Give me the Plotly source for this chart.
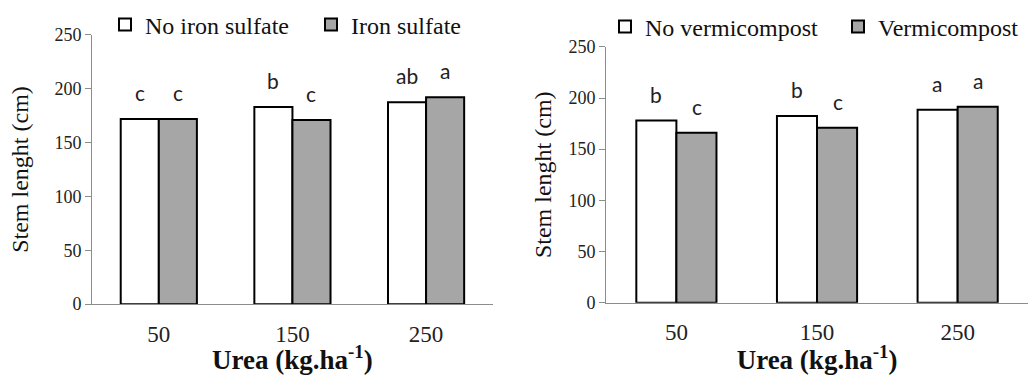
import plotly.graph_objects as go

urea = ["50", "150", "250"]

no_iron = [172, 183, 187.5]
iron = [172, 171, 192]
letters_no_iron = ["c", "b", "ab"]
letters_iron = ["c", "c", "a"]

no_vermi = [178, 182.5, 188.5]
vermi = [166, 171, 191.5]
letters_no_vermi = ["b", "b", "a"]
letters_vermi = ["c", "c", "a"]

y_ticks = [0, 50, 100, 150, 200, 250]

SERIF = "Liberation Serif"
WHITE = "#ffffff"
GREY = "#a6a6a6"
EDGE = "#000000"
W, H = 1029, 375

fig = go.Figure()

def add_bars(xa, ya, legends, names, vals):
    for name, v, col, lg in zip(names, vals, [WHITE, GREY], legends):
        fig.add_trace(go.Bar(
            x=urea, y=v, name=name, xaxis=xa, yaxis=ya, legend=lg,
            marker=dict(color=col, line=dict(color=EDGE, width=2)),
        ))

add_bars("x", "y", ["legend", "legend2"], ["No iron sulfate", "Iron sulfate"], [no_iron, iron])
add_bars("x2", "y2", ["legend3", "legend4"], ["No vermicompost", "Vermicompost"], [no_vermi, vermi])

annotations = []
def add_letters(xref, yref, vals_list, letters_list, shift):
    for vals, lets, sx in zip(vals_list, letters_list, [-shift, shift]):
        # category axis: annotation x is the category index
        for i, (v, t) in enumerate(zip(vals, lets)):
            annotations.append(dict(
                x=i, y=v, xref=xref, yref=yref, text=t, showarrow=False,
                xshift=sx, yshift=12, yanchor="bottom",
                font=dict(family="Lato", size=21, color="#222"),
            ))

add_letters("x", "y", [no_iron, iron], [letters_no_iron, letters_iron], 19)
add_letters("x2", "y2", [no_vermi, vermi], [letters_no_vermi, letters_vermi], 20.5)

line_common = dict(showline=True, linecolor="#8c8c8c", linewidth=1, showgrid=False,
                   zeroline=False, automargin=False)
xtick_font = dict(family=SERIF, size=23, color="#222")
ytick_font = dict(family=SERIF, size=18, color="#222")
xtitle = dict(text="<b>Urea (kg.ha<sup>-1</sup>)</b>",
              font=dict(family=SERIF, size=27, color="#111"), standoff=7)

def ytitle(standoff):
    return dict(text="Stem lenght (cm)", font=dict(family=SERIF, size=24, color="#111"),
                standoff=standoff)

xcommon = dict(type="category", range=[-0.5, len(urea) - 0.5], ticks="outside",
               ticklen=9, tickcolor="rgba(0,0,0,0)",
               tickfont=xtick_font, title=xtitle, **line_common)
ycommon = dict(range=[0, 250], tickvals=y_ticks, ticks="outside", ticklen=6,
               tickcolor="#8c8c8c", tickfont=ytick_font, **line_common)

def leg(left_px, mid_px):
    return dict(orientation="h", xanchor="left", yanchor="middle",
                x=left_px / W, y=1 - mid_px / H,
                font=dict(family=SERIF, size=24, color="#111"), itemwidth=30,
                bgcolor="rgba(0,0,0,0)")

fig.update_layout(
    width=W, height=H,
    margin=dict(l=0, r=0, t=0, b=0),
    paper_bgcolor="white", plot_bgcolor="white",
    barmode="group", bargap=0.43, bargroupgap=0,
    xaxis=dict(domain=[0.0894, 0.479], anchor="y", **xcommon),
    yaxis=dict(domain=[0.189, 0.907], anchor="x", title=ytitle(18), **ycommon),
    xaxis2=dict(domain=[0.589, 0.999], anchor="y2", **xcommon),
    yaxis2=dict(domain=[0.193, 0.875], anchor="x2", title=ytitle(10), **ycommon),
    legend=leg(105, 25),
    legend2=leg(311, 25),
    legend3=leg(605, 27),
    legend4=leg(838, 27),
    annotations=annotations,
    showlegend=True,
)

fig.write_html("out.html", config={"displayModeBar": False},
               post_script="document.body.style.margin='0';")
